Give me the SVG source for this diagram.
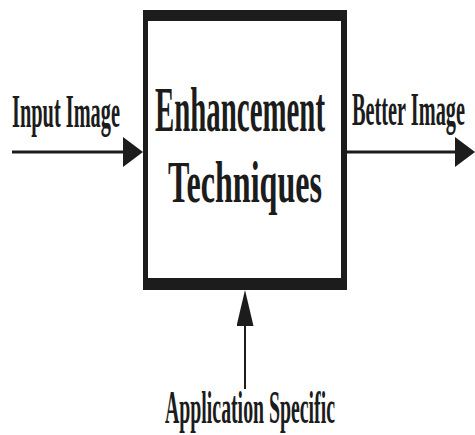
<svg xmlns="http://www.w3.org/2000/svg" width="475" height="435" viewBox="0 0 475 435">
  <defs>
    <style>
      .lbl { font-family: "Liberation Serif", "DejaVu Serif", serif; font-weight: bold; fill: #1c1c1c; }
      .title { font-size: 30px; }
      .small { font-size: 20px; }
      .wire { stroke: #1c1c1c; fill: none; }
    </style>
    <!-- wide head for the horizontal flow arrows -->
    <marker id="headH" markerUnits="userSpaceOnUse" viewBox="0 0 20 30" markerWidth="20" markerHeight="30" refX="10" refY="15" orient="auto">
      <path d="M0,0 L20,15 L0,30 Z" fill="#1c1c1c"/>
    </marker>
    <!-- tall narrow head for the vertical input arrow -->
    <marker id="headV" markerUnits="userSpaceOnUse" viewBox="0 0 36 17" markerWidth="36" markerHeight="17" refX="18" refY="8.5" orient="auto">
      <path d="M0,0 L36,8.5 L0,17 Z" fill="#1c1c1c"/>
    </marker>
  </defs>

  <rect width="475" height="435" fill="#ffffff"/>

  <!-- process block; labels use tall, narrow lettering (vertical stretch) -->
  <g id="enhancement">
    <rect x="143" y="10" width="204" height="280" fill="#1c1c1c"/>
    <rect x="148" y="21" width="193" height="257" fill="#ffffff"/>
    <text class="lbl title" transform="translate(155,131) scale(1,2.1)" textLength="170" lengthAdjust="spacingAndGlyphs">Enhancement</text>
    <text class="lbl title" transform="translate(168,202) scale(1,2.0)" textLength="154" lengthAdjust="spacingAndGlyphs">Techniques</text>
  </g>

  <g id="input">
    <text class="lbl small" transform="translate(12,127) scale(1,2.35)" textLength="108" lengthAdjust="spacingAndGlyphs">Input Image</text>
  </g>

  <g id="output">
    <text class="lbl small" transform="translate(352,125) scale(1,2.3)" textLength="113" lengthAdjust="spacingAndGlyphs">Better Image</text>
  </g>

  <g id="application">
    <text class="lbl small" transform="translate(165,423) scale(1,2.35)" textLength="170" lengthAdjust="spacingAndGlyphs">Application Specific</text>
  </g>

  <!-- connectors -->
  <g id="connectors">
    <line class="wire" x1="12" y1="152" x2="133" y2="152" stroke-width="3" marker-end="url(#headH)"/>
    <line class="wire" x1="347" y1="152" x2="465" y2="152" stroke-width="3" marker-end="url(#headH)"/>
    <line class="wire" x1="245" y1="389" x2="245" y2="308" stroke-width="2" marker-end="url(#headV)"/>
  </g>
</svg>
